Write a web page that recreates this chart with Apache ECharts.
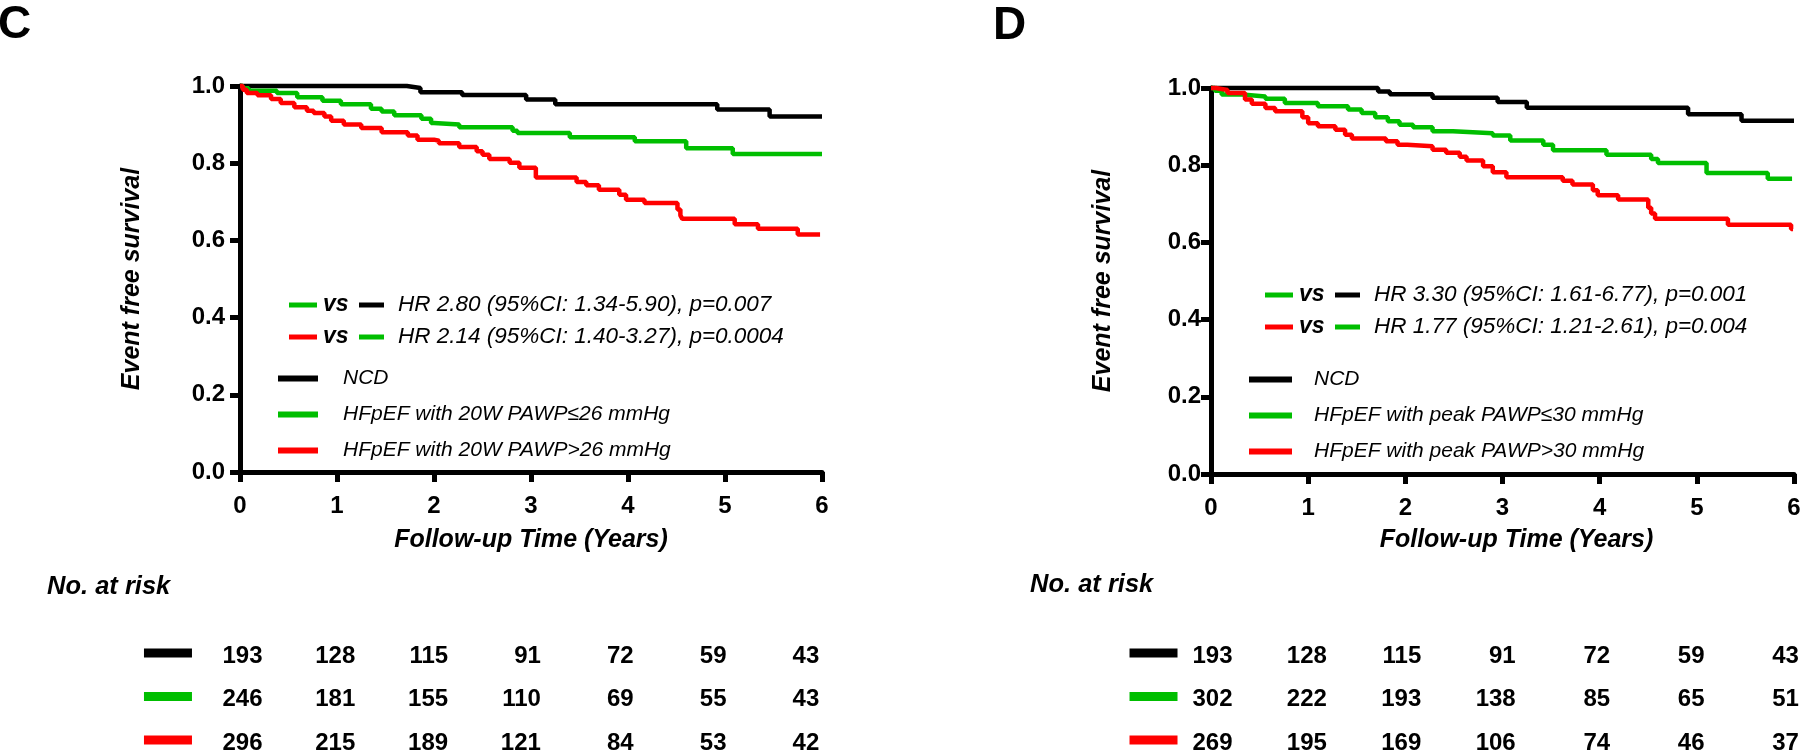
<!DOCTYPE html>
<html><head><meta charset="utf-8">
<script src="https://cdn.jsdelivr.net/npm/echarts@6/dist/echarts.min.js"></script>
<style>html,body{margin:0;padding:0;background:#fff}#c{width:1800px;height:752px}</style>
</head><body><div id="c"></div>
<script>
// ---------- data ----------
const xTicks = [0, 1, 2, 3, 4, 5, 6];
// Panel C : Kaplan-Meier steps [years, survival]
const ncdC = [[0,1],[1.72,0.995],[1.86,0.984],[2.29,0.977],[2.95,0.965],[3.25,0.953],[4.92,0.939],[5.46,0.921],[6.0,0.921]];
const lowC = [[0,1],[0.03,0.994],[0.09,0.988],[0.38,0.982],[0.59,0.971],[0.85,0.962],[1.04,0.953],[1.35,0.941],[1.46,0.934],[1.59,0.924],[1.87,0.915],[1.97,0.904],[2.0,0.900],[2.26,0.893],[2.81,0.884],[2.86,0.878],[3.40,0.867],[4.07,0.857],[4.60,0.839],[5.08,0.824],[6.0,0.824]];
const highC = [[0,1],[0.03,0.99],[0.07,0.982],[0.18,0.976],[0.32,0.966],[0.42,0.956],[0.56,0.945],[0.69,0.936],[0.76,0.930],[0.87,0.921],[0.94,0.910],[1.07,0.900],[1.25,0.891],[1.46,0.880],[1.73,0.872],[1.83,0.861],[2.0,0.858],[2.05,0.852],[2.26,0.842],[2.44,0.831],[2.50,0.822],[2.57,0.811],[2.78,0.801],[2.88,0.788],[3.05,0.763],[3.47,0.751],[3.57,0.743],[3.70,0.731],[3.91,0.718],[3.98,0.705],[4.17,0.697],[4.51,0.680],[4.54,0.665],[4.56,0.656],[5.10,0.642],[5.34,0.630],[5.75,0.615],[5.98,0.615]];
// Panel D
const ncdD = [[0,1],[1.72,0.991],[1.84,0.984],[2.28,0.975],[2.95,0.964],[3.25,0.949],[4.91,0.932],[5.46,0.915],[6.0,0.915]];
const lowD = [[0,1],[0.04,0.993],[0.11,0.983],[0.32,0.978],[0.56,0.972],[0.76,0.961],[1.10,0.953],[1.41,0.944],[1.55,0.935],[1.69,0.924],[1.82,0.914],[1.94,0.905],[2.08,0.898],[2.28,0.888],[2.49,0.883],[2.90,0.877],[3.08,0.864],[3.42,0.853],[3.52,0.839],[4.07,0.827],[4.53,0.816],[4.60,0.806],[5.10,0.780],[5.73,0.765],[5.98,0.765]];
const highD = [[0,1],[0.05,0.995],[0.17,0.987],[0.35,0.970],[0.42,0.959],[0.56,0.948],[0.66,0.940],[0.94,0.924],[1.0,0.909],[1.10,0.901],[1.28,0.892],[1.38,0.879],[1.45,0.869],[1.80,0.862],[1.92,0.853],[2.02,0.849],[2.28,0.840],[2.42,0.832],[2.56,0.822],[2.63,0.812],[2.80,0.797],[2.90,0.782],[3.04,0.769],[3.62,0.760],[3.72,0.750],[3.93,0.735],[3.98,0.722],[4.19,0.711],[4.50,0.690],[4.53,0.675],[4.57,0.661],[5.32,0.646],[5.97,0.635],[5.99,0.635]];

const namesC = ['NCD', 'HFpEF with 20W PAWP\u226426 mmHg', 'HFpEF with 20W PAWP>26 mmHg'];
const namesD = ['NCD', 'HFpEF with peak PAWP\u226430 mmHg', 'HFpEF with peak PAWP>30 mmHg'];
const hrC = ['HR 2.80 (95%CI: 1.34-5.90), p=0.007', 'HR 2.14 (95%CI: 1.40-3.27), p=0.0004'];
const hrD = ['HR 3.30 (95%CI: 1.61-6.77), p=0.001', 'HR 1.77 (95%CI: 1.21-2.61), p=0.004'];

const riskC_ncd = [193,128,115,91,72,59,43];
const riskC_low = [246,181,155,110,69,55,43];
const riskC_high = [296,215,189,121,84,53,42];
const riskD_ncd = [193,128,115,91,72,59,43];
const riskD_low = [302,222,193,138,85,65,51];
const riskD_high = [269,195,169,106,74,46,37];

// ---------- style ----------
const FONT = "'Liberation Sans', Arial, Helvetica, sans-serif";
const BLACK = '#000000', GREEN = '#00BE00', RED = '#FF0000';
const COLORS = [BLACK, GREEN, RED];

function km(name, data, color, idx, z) {
  return { type: 'line', name, data, xAxisIndex: idx, yAxisIndex: idx, step: 'end',
    showSymbol: false, symbol: 'none', clip: false, z,
    lineStyle: { width: 4.5, color, cap: 'butt' }, itemStyle: { color } };
}
function xAx(idx, gap, pad) {
  return { gridIndex: idx, type: 'value', min: 0, max: 6, interval: 1,
    axisLine: { show: true, onZero: false, lineStyle: { color: BLACK, width: 5 } },
    axisTick: { show: true, length: 10, lineStyle: { color: BLACK, width: 5 } },
    axisLabel: { margin: 22, fontSize: 24, fontWeight: 'bold', color: BLACK, fontFamily: FONT,
      formatter: v => String(xTicks[Math.round(v)]) },
    splitLine: { show: false },
    name: 'Follow-up Time (Years)', nameLocation: 'middle', nameGap: gap,
    nameTextStyle: { fontSize: 25, fontWeight: 'bold', fontStyle: 'italic', color: BLACK, fontFamily: FONT, padding: pad } };
}
function yAx(idx, margin) {
  return { gridIndex: idx, type: 'value', min: 0, max: 1, interval: 0.2,
    axisLine: { show: true, onZero: false, lineStyle: { color: BLACK, width: 5 } },
    axisTick: { show: true, length: 10, lineStyle: { color: BLACK, width: 5 } },
    axisLabel: { margin, fontSize: 24, fontWeight: 'bold', color: BLACK, fontFamily: FONT, formatter: v => v.toFixed(1) },
    splitLine: { show: false },
    name: 'Event free survival', nameLocation: 'middle', nameGap: 95, nameRotate: 90,
    nameTextStyle: { fontSize: 25, fontWeight: 'bold', fontStyle: 'italic', color: BLACK, fontFamily: FONT } };
}
function tableAxes(idx) {
  return [
    { gridIndex: idx, type: 'value', min: -2, max: 6, show: false },
    { gridIndex: idx, type: 'value', min: 0, max: 2, inverse: true, show: false }
  ];
}
function riskSeries(idx, rows, swatchX) {
  const nums = [];
  rows.forEach((r, ri) => r.forEach((v, i) => nums.push([i, ri, v])));
  return [
    { type: 'scatter', xAxisIndex: idx, yAxisIndex: idx, data: nums, symbolSize: 1, silent: true,
      itemStyle: { color: 'rgba(0,0,0,0)', opacity: 1 },
      label: { show: true, position: 'left', distance: 0, formatter: p => String(p.value[2]), opacity: 1,
        fontSize: 24, fontWeight: 'bold', color: BLACK, fontFamily: FONT } },
    { type: 'scatter', xAxisIndex: idx, yAxisIndex: idx, symbol: 'rect', symbolSize: [48, 9], symbolOffset: [0, -3], silent: true,
      itemStyle: { opacity: 1 },
      data: rows.map((r, ri) => ({ value: [swatchX, ri], itemStyle: { color: COLORS[ri], opacity: 1 } })) }
  ];
}
function legendOf(names, left, top, w, pad) {
  return { data: names, orient: 'vertical', left, top, itemWidth: w, itemHeight: 6, itemGap: 15,
    icon: 'rect', padding: 0, selectedMode: false,
    textStyle: { fontSize: 21, fontStyle: 'italic', color: BLACK, fontFamily: FONT, padding: [0, 0, 0, pad] } };
}
function txt(x, y, text, font, align) {
  return { type: 'text', x, y, silent: true,
    style: { text, font, fill: BLACK, textAlign: align || 'left', align: align || 'left',
      textVerticalAlign: 'middle', verticalAlign: 'middle' } };
}
function hrRow(x, y, c1, c2, text) {
  return [
    { type: 'rect', shape: { x, y: y - 2.5, width: 28, height: 5 }, style: { fill: c1 }, silent: true },
    txt(x + 34, y, 'vs', "italic bold 23px " + FONT),
    { type: 'rect', shape: { x: x + 70, y: y - 2.5, width: 25, height: 5 }, style: { fill: c2 }, silent: true },
    txt(x + 109, y, text, "italic 22.5px " + FONT)
  ];
}

const gridBase = { containLabel: false, outerBoundsMode: 'none' };
const option = {
  animation: false,
  backgroundColor: '#ffffff',
  grid: [
    Object.assign({ left: 240, right: 978, top: 86, bottom: 280 }, gridBase),
    Object.assign({ left: 1211, right: 6, top: 88, bottom: 278 }, gridBase),
    Object.assign({ left: 77.4, right: 980.2, top: 656, bottom: 9 }, gridBase),
    Object.assign({ left: 1044.2, right: 0.6, top: 656, bottom: 9 }, gridBase)
  ],
  xAxis: [xAx(0, 56, [0, 0, 0, 0]), xAx(1, 54, [0, 0, 0, 28]), tableAxes(2)[0], tableAxes(3)[0]],
  yAxis: [yAx(0, 15), yAx(1, 10), tableAxes(2)[1], tableAxes(3)[1]],
  legend: [legendOf(namesC, 278, 368, 40, 20), legendOf(namesD, 1249, 369, 43, 17)],
  series: [
    km(namesC[0], ncdC, BLACK, 0, 3), km(namesC[1], lowC, GREEN, 0, 4), km(namesC[2], highC, RED, 0, 5),
    km(namesD[0], ncdD, BLACK, 1, 3), km(namesD[1], lowD, GREEN, 1, 4), km(namesD[2], highD, RED, 1, 5),
    ...riskSeries(2, [riskC_ncd, riskC_low, riskC_high], -1.024),
    ...riskSeries(3, [riskD_ncd, riskD_low, riskD_high], -0.842)
  ],
  graphic: [
    txt(-2, 25, 'C', "bold 46px " + FONT),
    txt(993, 26, 'D', "bold 46px " + FONT),
    txt(47, 586.5, 'No. at risk', "italic bold 25.5px " + FONT),
    txt(1030, 585, 'No. at risk', "italic bold 25.5px " + FONT),
    ...hrRow(289, 305, GREEN, BLACK, hrC[0]),
    ...hrRow(289, 337, RED, GREEN, hrC[1]),
    ...hrRow(1265, 295, GREEN, BLACK, hrD[0]),
    ...hrRow(1265, 327, RED, GREEN, hrD[1])
  ]
};
const chart = echarts.init(document.getElementById('c'), null, { renderer: 'canvas' });
chart.setOption(option);
</script></body></html>
